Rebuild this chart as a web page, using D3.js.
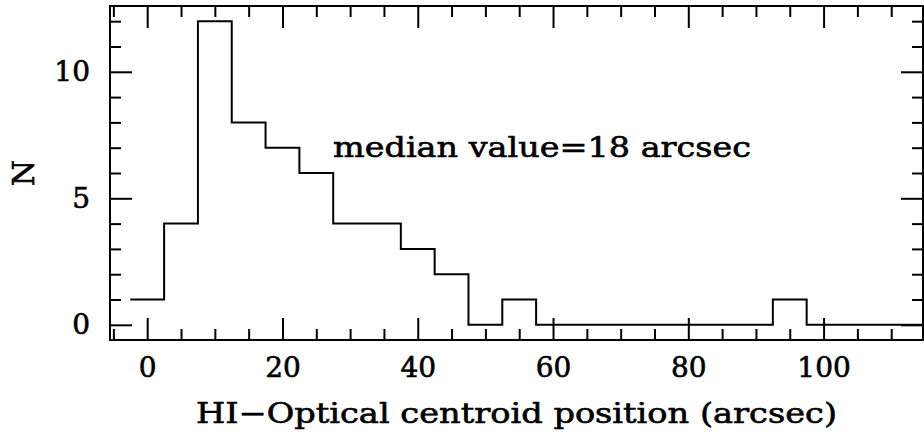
<!DOCTYPE html>
<html><head><meta charset="utf-8">
<script src="https://cdn.jsdelivr.net/npm/d3@7/dist/d3.min.js"></script>
<style>body{margin:0;background:#fff}svg{display:block}text{stroke:#000;stroke-width:0.6px}</style>
</head><body><svg id="c" width="924" height="436"></svg>
<script>
// ---- data ----
const binCenters = [0,5,10,15,20,25,30,35,40,45,50,55,60,65,70,75,80,85,90,95,100,105,110,115];
const counts     = [1,4,12,8,7,6,4,4,3,2,0,1,0,0,0,0,0,0,0,1,0,0,0,0];
const binWidth = 5;
const xTickValues = [0,20,40,60,80,100];
const yTickValues = [0,5,10];
const xLabel = "HI\u2212Optical centroid position (arcsec)";
const yLabel = "N";
const note = "median value=18 arcsec";

// ---- layout ----
const L = 110, R = 923, T = 6, B = 340;
const svg = d3.select("#c");
const font = "'DejaVu Serif', serif";

const x = d3.scaleLinear().domain([-5.5, 114.7]).range([L, R]);
const y = d3.scaleLinear().domain([-0.6, 12.6]).range([B, T]);

const xMinor = d3.range(-5, 115, 5).filter(v => !xTickValues.includes(v));
const yMinor = d3.range(0, 13, 1).filter(v => !yTickValues.includes(v));

const MAJ = 22, MIN = 11;

function styleAxis(g) {
  g.select(".domain").remove();
  g.selectAll(".tick line").attr("stroke", "#000").attr("stroke-width", 2);
  g.selectAll("text").attr("font-family", font).attr("font-size", 28).attr("fill", "#000");
}

// bottom
svg.append("g").attr("transform", `translate(0,${B})`)
  .call(d3.axisBottom(x).tickValues(xTickValues).tickSizeInner(-MAJ).tickSizeOuter(0).tickPadding(17).tickFormat(d3.format("d")))
  .call(styleAxis);
svg.append("g").attr("transform", `translate(0,${B})`)
  .call(d3.axisBottom(x).tickValues(xMinor).tickSizeInner(-MIN).tickSizeOuter(0).tickFormat(""))
  .call(styleAxis);
// top
svg.append("g").attr("transform", `translate(0,${T})`)
  .call(d3.axisTop(x).tickValues(xTickValues).tickSizeInner(-MAJ).tickSizeOuter(0).tickFormat(""))
  .call(styleAxis);
svg.append("g").attr("transform", `translate(0,${T})`)
  .call(d3.axisTop(x).tickValues(xMinor).tickSizeInner(-MIN).tickSizeOuter(0).tickFormat(""))
  .call(styleAxis);
// left
svg.append("g").attr("transform", `translate(${L},0)`)
  .call(d3.axisLeft(y).tickValues(yTickValues).tickSizeInner(-MAJ).tickSizeOuter(0).tickPadding(20).tickFormat(d3.format("d")))
  .call(styleAxis);
svg.append("g").attr("transform", `translate(${L},0)`)
  .call(d3.axisLeft(y).tickValues(yMinor).tickSizeInner(-MIN).tickSizeOuter(0).tickFormat(""))
  .call(styleAxis);
// right
svg.append("g").attr("transform", `translate(${R},0)`)
  .call(d3.axisRight(y).tickValues(yTickValues).tickSizeInner(-MAJ).tickSizeOuter(0).tickFormat(""))
  .call(styleAxis);
svg.append("g").attr("transform", `translate(${R},0)`)
  .call(d3.axisRight(y).tickValues(yMinor).tickSizeInner(-MIN).tickSizeOuter(0).tickFormat(""))
  .call(styleAxis);

// frame
svg.append("rect").attr("x", L).attr("y", T).attr("width", R - L).attr("height", B - T)
  .attr("fill", "none").attr("stroke", "#000").attr("stroke-width", 2);

// histogram step line
svg.append("clipPath").attr("id", "clip").append("rect")
  .attr("x", L).attr("y", T).attr("width", R - L).attr("height", B - T);
const pts = binCenters.map((c, i) => [c - binWidth / 2, counts[i]]);
pts.push([binCenters[binCenters.length - 1] + binWidth / 2, counts[counts.length - 1]]);
const line = d3.line().x(d => x(d[0])).y(d => y(d[1])).curve(d3.curveStepAfter);
svg.append("path").attr("d", line(pts)).attr("clip-path", "url(#clip)")
  .attr("fill", "none").attr("stroke", "#000").attr("stroke-width", 2);

// labels
svg.append("text").attr("x", 333).attr("y", 157).attr("font-family", font).attr("font-size", 28)
  .attr("textLength", 418).attr("lengthAdjust", "spacingAndGlyphs").text(note);
svg.append("text").attr("x", 196).attr("y", 423).attr("font-family", font).attr("font-size", 28)
  .attr("textLength", 641).attr("lengthAdjust", "spacingAndGlyphs").text(xLabel);
svg.append("text").attr("transform", "translate(34,173) rotate(-90)").attr("text-anchor", "middle")
  .attr("font-family", font).attr("font-size", 30).text(yLabel);
</script></body></html>
